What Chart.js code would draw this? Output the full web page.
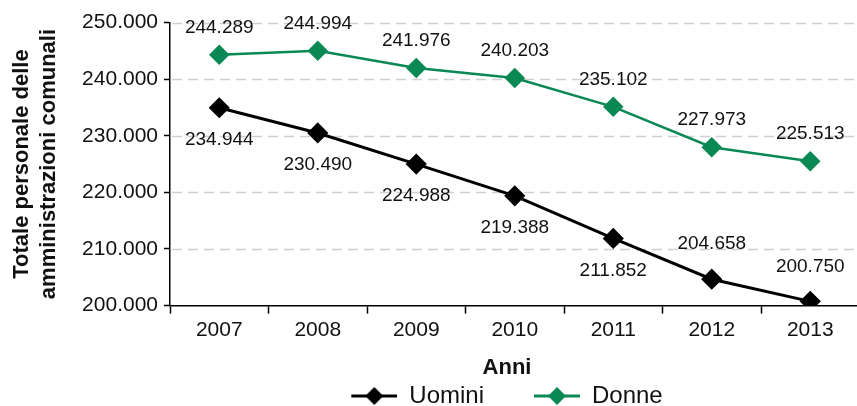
<!DOCTYPE html>
<html>
<head>
<meta charset="utf-8">
<script src="https://cdn.jsdelivr.net/npm/chart.js@4"></script>
<style>
  html, body { margin: 0; padding: 0; background: #fff; overflow: hidden; }
  /* a little wider than the window: the last category runs past the right edge, like the original */
  #wrap { width: 871px; height: 406px; }
</style>
</head>
<body>
<div id="wrap"><canvas id="personale-chart"></canvas></div>
<script>
const anni = ['2007', '2008', '2009', '2010', '2011', '2012', '2013'];
const uomini = [234944, 230490, 224988, 219388, 211852, 204658, 200750];
const donne = [244289, 244994, 241976, 240203, 235102, 227973, 225513];
const yMin = 200000;
const yMax = 250000;
const yStep = 10000;

const GREEN = 'rgb(10, 137, 84)';
const FONT = '"Liberation Sans", Arial, Helvetica, sans-serif';
const ICON_GAP = 46;   // empty space left of each legend icon

// thousands with a dot, italian style
const fmt = v => String(Math.round(v)).replace(/\B(?=(\d{3})+(?!\d))/g, '.');

// legend picture: line with a diamond in the middle
function legendIcon(color) {
    const c = document.createElement('canvas');
    c.width = ICON_GAP + 46;
    c.height = 18;
    const ctx = c.getContext('2d');
    const x0 = ICON_GAP;
    ctx.strokeStyle = color;
    ctx.lineWidth = 3;
    ctx.beginPath();
    ctx.moveTo(x0, 9);
    ctx.lineTo(x0 + 46, 9);
    ctx.stroke();
    ctx.fillStyle = color;
    ctx.beginPath();
    ctx.moveTo(x0 + 23, 0);
    ctx.lineTo(x0 + 32, 9);
    ctx.lineTo(x0 + 23, 18);
    ctx.lineTo(x0 + 14, 9);
    ctx.closePath();
    ctx.fill();
    return c;
}

// dashed horizontal grid lines, one per y tick
const dashedGrid = {
    id: 'dashedGrid',
    beforeDatasetsDraw(chart, args, opts) {
        const y = chart.scales.y;
        const area = chart.chartArea;
        const ctx = chart.ctx;
        ctx.save();
        ctx.strokeStyle = opts.color;
        ctx.lineWidth = opts.width;
        ctx.setLineDash(opts.dash);
        y.ticks.forEach(t => {
            if (t.value === yMin) return;
            const py = Math.round(y.getPixelForValue(t.value)) + 0.5;
            ctx.beginPath();
            ctx.moveTo(area.left + 2, py);
            ctx.lineTo(area.right, py);
            ctx.stroke();
        });
        ctx.restore();
    }
};

// value labels next to each point
const valueLabels = {
    id: 'valueLabels',
    afterDatasetsDraw(chart, args, opts) {
        const ctx = chart.ctx;
        ctx.save();
        ctx.font = '19px ' + FONT;
        ctx.fillStyle = '#111';
        ctx.textAlign = 'center';
        ctx.textBaseline = 'middle';
        chart.data.datasets.forEach((ds, i) => {
            const meta = chart.getDatasetMeta(i);
            const place = opts.placement[i];
            meta.data.forEach((pt, j) => {
                const dy = place[j] === 'above' ? -opts.above[i] : opts.below;
                ctx.fillText(fmt(ds.data[j]), pt.x, pt.y + dy);
            });
        });
        ctx.restore();
    }
};

// in the original the "Anni" title and the legend are centred around x = 507
const bottomShift = {
    id: 'bottomShift',
    afterLayout(chart, args, opts) {
        const lg = chart.legend;
        if (lg) {
            const d = opts.center - (lg.left + lg.right + ICON_GAP) / 2;
            lg.left += d;
            lg.right += d;
        }
        const tb = chart.titleBlock;
        if (tb) {
            const d = opts.center - (tb.left + tb.right) / 2;
            tb.left += d;
            tb.right += d;
        }
    }
};

new Chart(document.getElementById('personale-chart'), {
    type: 'line',
    data: {
        labels: anni,
        datasets: [{
            label: 'Uomini',
            data: uomini,
            borderColor: '#000',
            backgroundColor: '#000',
            borderWidth: 3,
            pointStyle: 'rectRot',
            pointRadius: 8.5,
            pointHoverRadius: 8.5,
            tension: 0,
            fill: false
        }, {
            label: 'Donne',
            data: donne,
            borderColor: GREEN,
            backgroundColor: GREEN,
            borderWidth: 2.5,
            pointStyle: 'rectRot',
            pointRadius: 8.5,
            pointHoverRadius: 8.5,
            tension: 0,
            fill: false
        }]
    },
    options: {
        responsive: true,
        maintainAspectRatio: false,
        animation: false,
        layout: { padding: { top: 22.5, right: 0, left: 0, bottom: -12 } },
        scales: {
            x: {
                offset: true,
                afterFit: scale => {
                    scale.height = 37.2;
                    scale.paddingLeft = 0;
                    scale.paddingRight = 0;
                },
                grid: {
                    offset: true,
                    drawOnChartArea: false,
                    drawTicks: true,
                    tickLength: 8,
                    tickColor: '#000',
                    tickWidth: 1.5
                },
                border: { color: '#000', width: 1.5 },
                ticks: { color: '#111', font: { family: FONT, size: 21 }, padding: 4, maxRotation: 0 }
            },
            y: {
                min: yMin,
                max: yMax,
                afterFit: scale => { scale.width = 170; },
                grid: {
                    drawOnChartArea: false,
                    drawTicks: true,
                    tickLength: 6,
                    tickColor: '#000',
                    tickWidth: 1.5
                },
                border: { color: '#000', width: 1.5 },
                ticks: {
                    stepSize: yStep,
                    color: '#111',
                    font: { family: FONT, size: 21 },
                    padding: 6,
                    callback: v => fmt(v)
                },
                title: {
                    display: true,
                    text: ['Totale personale delle', 'amministrazioni comunali'],
                    color: '#111',
                    font: { family: FONT, size: 22, weight: 'bold', lineHeight: 1.24 },
                    padding: { top: 8, bottom: 0 }
                }
            }
        },
        plugins: {
            title: {
                display: true,
                position: 'bottom',
                weight: 500,
                text: 'Anni',
                color: '#111',
                font: { family: FONT, size: 22, weight: 'bold', lineHeight: 1.1 },
                padding: { top: 13, bottom: 0 }
            },
            legend: {
                position: 'bottom',
                weight: 1000,
                labels: {
                    usePointStyle: true,
                    pointStyleWidth: ICON_GAP + 46,
                    color: '#111',
                    font: { family: FONT, size: 24 },
                    padding: 4,
                    generateLabels: chart => chart.data.datasets.map((ds, i) => ({
                        text: ds.label,
                        pointStyle: legendIcon(ds.borderColor),
                        fillStyle: ds.borderColor,
                        strokeStyle: ds.borderColor,
                        lineWidth: 0,
                        fontColor: '#111',
                        hidden: false,
                        datasetIndex: i
                    }))
                }
            },
            bottomShift: { center: 507 },
            dashedGrid: { color: '#d0d0d0', width: 1.5, dash: [10, 6] },
            tooltip: { enabled: false },
            valueLabels: {
                placement: [
                    ['below', 'below', 'below', 'below', 'below', 'above', 'above'],
                    ['above', 'above', 'above', 'above', 'above', 'above', 'above']
                ],
                above: [35, 27],
                below: 32
            }
        }
    },
    plugins: [dashedGrid, valueLabels, bottomShift]
});
</script>
</body>
</html>
